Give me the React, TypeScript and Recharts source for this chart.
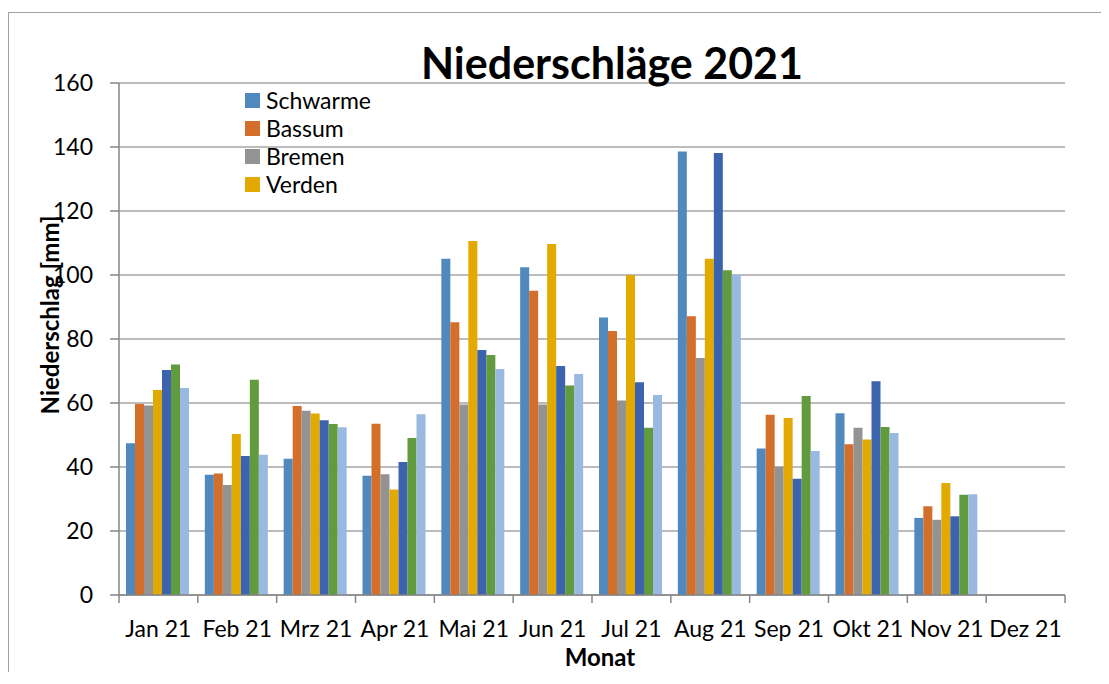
import React from "react";
import { BarChart, Bar, XAxis, YAxis, CartesianGrid, Legend } from "recharts";

const months = ["Jan 21", "Feb 21", "Mrz 21", "Apr 21", "Mai 21", "Jun 21", "Jul 21", "Aug 21", "Sep 21", "Okt 21", "Nov 21", "Dez 21"];

const schwarme = [47.4, 37.6, 42.6, 37.3, 105.1, 102.4, 86.7, 138.6, 45.8, 56.8, 24.1, null];
const bassum = [59.7, 38.0, 59.1, 53.5, 85.2, 95.1, 82.5, 87.1, 56.3, 47.1, 27.7, null];
const bremen = [59.2, 34.4, 57.6, 37.7, 59.5, 59.5, 60.8, 74.1, 40.1, 52.3, 23.5, null];
const verden = [64.1, 50.3, 56.7, 33.0, 110.6, 109.7, 100.0, 105.1, 55.3, 48.6, 35.0, null];
const station5 = [70.3, 43.4, 54.6, 41.6, 76.6, 71.6, 66.5, 138.1, 36.3, 66.8, 24.6, null];
const station6 = [72.0, 67.3, 53.4, 49.1, 75.0, 65.5, 52.3, 101.5, 62.2, 52.5, 31.3, null];
const station7 = [64.7, 43.8, 52.4, 56.5, 70.6, 69.1, 62.5, 100.1, 45.0, 50.6, 31.5, null];

const yTicks = [0, 20, 40, 60, 80, 100, 120, 140, 160];

const series = [
  { key: "schwarme", name: "Schwarme", color: "#4f89bd", values: schwarme, inLegend: true },
  { key: "bassum", name: "Bassum", color: "#d46e2b", values: bassum, inLegend: true },
  { key: "bremen", name: "Bremen", color: "#939393", values: bremen, inLegend: true },
  { key: "verden", name: "Verden", color: "#e2a900", values: verden, inLegend: true },
  { key: "station5", name: "Station 5", color: "#3c64ae", values: station5, inLegend: false },
  { key: "station6", name: "Station 6", color: "#629a3e", values: station6, inLegend: false },
  { key: "station7", name: "Station 7", color: "#99b9e0", values: station7, inLegend: false },
];

const data = months.map((month, i) => {
  const row: Record<string, string | number | null> = { month };
  series.forEach((s) => {
    row[s.key] = s.values[i];
  });
  return row;
});

const FONT = "Lato, 'Open Sans', sans-serif";
const AXIS = "#868686";

// month label plus Excel-style tick marks on the category edges
function MonthTick(props: { x?: number; y?: number; payload?: { value?: string; offset?: number } }) {
  const { x = 0, y = 0, payload } = props;
  const half = payload?.offset ?? 0;
  const isLast = payload?.value === months[months.length - 1];
  return (
    <g>
      <line x1={x - half} x2={x - half} y1={y} y2={y + 8} stroke={AXIS} strokeWidth={1.5} />
      {isLast && <line x1={x + half} x2={x + half} y1={y} y2={y + 8} stroke={AXIS} strokeWidth={1.5} />}
      <text x={x} y={y + 26} dy="0.71em" textAnchor="middle" fill="#000" fontSize={23} fontFamily={FONT}>
        {payload?.value}
      </text>
    </g>
  );
}

// legend keeps the series order (recharts would sort by name)
function LegendBox() {
  return (
    <div style={{ fontFamily: FONT, fontSize: 23, color: "#000" }}>
      {series
        .filter((s) => s.inLegend)
        .map((s) => (
          <div key={s.key} style={{ display: "flex", alignItems: "center", height: 28 }}>
            <span style={{ width: 15, height: 15, background: s.color, marginRight: 6, display: "inline-block" }} />
            <span style={{ lineHeight: 1 }}>{s.name}</span>
          </div>
        ))}
    </div>
  );
}

export default function App() {
  return (
    <div style={{ position: "relative", top: 4, width: 1101, height: 664, fontFamily: FONT }}>
      <div
        style={{
          position: "absolute",
          left: 0,
          top: 0,
          width: 1101,
          height: 672,
          borderTop: "1.5px solid #a0a0a0",
          borderLeft: "1.5px solid #a0a0a0",
          boxSizing: "border-box",
        }}
      />
      <div style={{ position: "absolute", left: 0, top: 0 }}>
        <BarChart
          width={1101}
          height={672}
          data={data}
          margin={{ top: 71, right: 44, left: 0, bottom: 0 }}
          barCategoryGap={7}
          barGap={0}
        >
          <CartesianGrid vertical={false} stroke="#a6a6a6" strokeWidth={1.5} />
          <XAxis
            dataKey="month"
            height={89}
            interval={0}
            tickLine={false}
            tickSize={0}
            tickMargin={0}
            axisLine={{ stroke: AXIS, strokeWidth: 1.5 }}
            tick={<MonthTick />}
          />
          <YAxis
            width={111}
            domain={[0, 160]}
            ticks={yTicks}
            interval={0}
            tickSize={9}
            tickMargin={17}
            tickLine={{ stroke: AXIS, strokeWidth: 1.5 }}
            axisLine={{ stroke: AXIS, strokeWidth: 1.5 }}
            tick={{ fill: "#000", fontSize: 23, fontFamily: FONT }}
          />
          <Legend
            layout="horizontal"
            align="center"
            verticalAlign="middle"
            content={<LegendBox />}
            wrapperStyle={{ position: "absolute", left: 237, top: 74, width: 200, height: 112 }}
          />
          {series.map((s) => (
            <Bar
              key={s.key}
              dataKey={s.key}
              name={s.name}
              fill={s.color}
              legendType={s.inLegend ? "square" : "none"}
              isAnimationActive={false}
            />
          ))}
        </BarChart>
      </div>
      <div
        style={{
          position: "absolute",
          left: 604,
          top: 29,
          transform: "translateX(-50%)",
          fontSize: 43,
          fontWeight: 700,
          lineHeight: 1,
          whiteSpace: "nowrap",
          color: "#000",
        }}
      >
        Niederschläge 2021
      </div>
      <div
        style={{
          position: "absolute",
          left: 42,
          top: 303,
          transform: "translate(-50%, -50%) rotate(-90deg)",
          fontSize: 24,
          fontWeight: 700,
          lineHeight: 1,
          whiteSpace: "nowrap",
          color: "#000",
        }}
      >
        Niederschlag [mm]
      </div>
      <div
        style={{
          position: "absolute",
          left: 592,
          top: 633,
          transform: "translateX(-50%)",
          fontSize: 24,
          fontWeight: 700,
          lineHeight: 1,
          whiteSpace: "nowrap",
          color: "#000",
        }}
      >
        Monat
      </div>
    </div>
  );
}
